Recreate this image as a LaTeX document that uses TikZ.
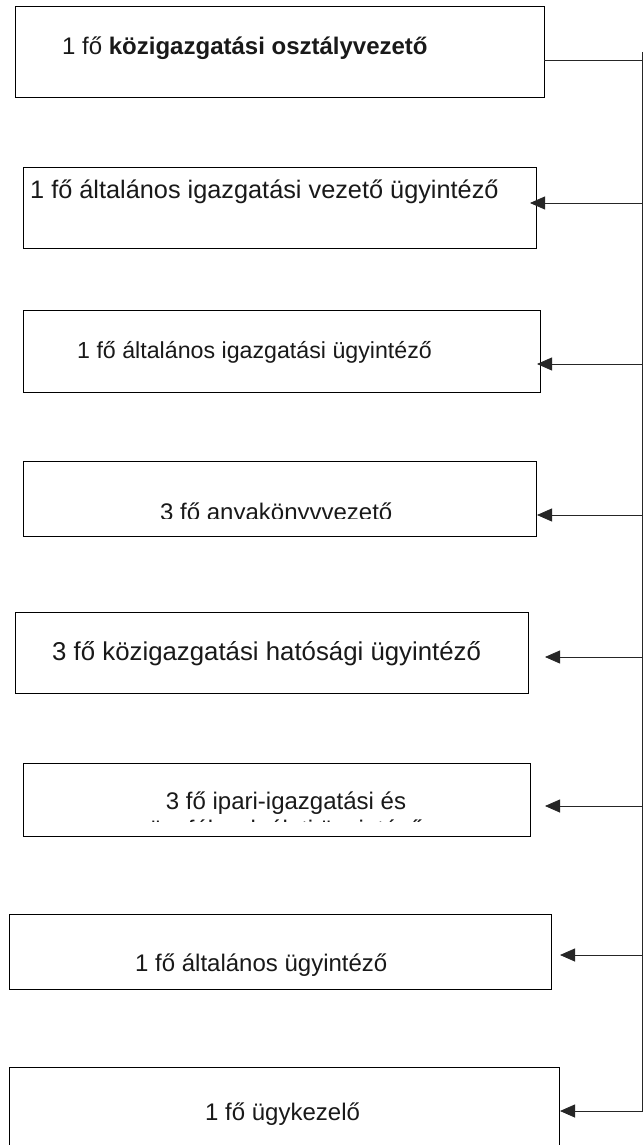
\documentclass[tikz,border=0pt]{standalone}
\usepackage{fontspec}
\setmainfont{Liberation Sans}
\usetikzlibrary{arrows.meta}
\tikzset{
  x={(1pt,0)}, y={(0,-1pt)},
  box/.style={draw=black, line width=0.8pt, inner sep=0pt, outer sep=0pt, anchor=north west, fill=white},
  lbl/.style={inner sep=0pt, anchor=base west, font=\fontsize{24}{27.6}\selectfont, text=black!90},
  conn/.style={draw=black!85, line width=0.8pt},
  arr/.style={conn, -{Triangle[length=15pt,width=13pt]}},
}
\begin{document}
\begin{tikzpicture}
\useasboundingbox (0,0) rectangle (644,1145);
\clip (0,0) rectangle (644,1145);
\fill[white] (0,0) rectangle (644,1145);
% boxes
\node[box, minimum width=529pt, minimum height=91pt] (b1) at (15,6) {};
\node[box, minimum width=513pt, minimum height=81pt] (b2) at (23,167) {};
\node[box, minimum width=517pt, minimum height=82pt] (b3) at (23,310) {};
\node[box, minimum width=513pt, minimum height=75pt] (b4) at (23,461) {};
\node[box, minimum width=513pt, minimum height=81pt] (b5) at (15,612) {};
\node[box, minimum width=507pt, minimum height=73pt] (b6) at (23,763) {};
\node[box, minimum width=542pt, minimum height=75pt] (b7) at (9,914) {};
\node[box, minimum width=550pt, minimum height=100pt] (b8) at (9,1067) {};
% texts
\node[lbl] (t1) at (62,55) {1 fő \textbf{közigazgatási osztályvezető}};
\node[lbl, font=\fontsize{25.3}{29}\selectfont] (t2) at (30,198) {1 fő általános igazgatási vezető ügyintéző};
\node[lbl, font=\fontsize{23.2}{27}\selectfont] (t3) at (77,358) {1 fő általános igazgatási ügyintéző};
\begin{scope}
\clip (23,461) rectangle (536,518);
\node[lbl] (t4) at (160,520) {3 fő anyakönyvvezető};
\end{scope}
\node[lbl, font=\fontsize{25.8}{29}\selectfont] (t5) at (52,660) {3 fő közigazgatási hatósági ügyintéző};
\begin{scope}
\clip (23,763) rectangle (530,821);
\node[lbl, anchor=base] (t6) at (286,809) {3 fő ipari-igazgatási és};
\node[lbl, anchor=base] (t6b) at (286,837) {ügyfélszolgálati ügyintéző};
\end{scope}
\node[lbl] (t7) at (135,971) {1 fő általános ügyintéző};
\node[lbl] (t8) at (205,1120) {1 fő ügykezelő};
% connectors
\coordinate (top) at (642,52);
\coordinate (bot) at (642,1111.5);
\draw[conn] (top) -- (bot);
\coordinate (h1) at (544,60);
\coordinate (h1r) at (642,60);
\draw[conn] (h1) -- (h1r);
\coordinate (s2) at (642,203); \coordinate (e2) at (530,203);
\coordinate (s3) at (642,364); \coordinate (e3) at (537,364);
\coordinate (s4) at (642,515); \coordinate (e4) at (537,515);
\coordinate (s5) at (642,657); \coordinate (e5) at (545,657);
\coordinate (s6) at (642,806); \coordinate (e6) at (545,806);
\coordinate (s7) at (642,955); \coordinate (e7) at (560,955);
\coordinate (s8) at (642,1111); \coordinate (e8) at (560,1111);
\foreach \i in {2,...,8} { \draw[arr] (s\i) -- (e\i); }
\end{tikzpicture}
\end{document}
